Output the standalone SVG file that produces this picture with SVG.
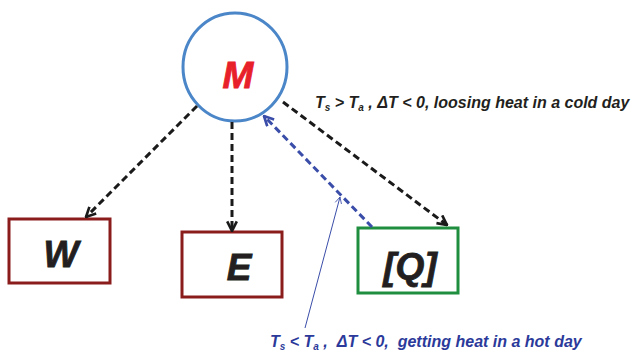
<svg xmlns="http://www.w3.org/2000/svg" width="635" height="352" viewBox="0 0 635 352">
<style>
.lbl{font-family:"Liberation Sans",Arial,sans-serif;font-weight:bold;font-style:italic}
.node{font-family:"Liberation Sans",Arial,sans-serif;font-weight:bold;font-style:italic;font-size:37px;fill:#231F20;text-anchor:middle;stroke:#231F20;stroke-width:0.8}
.dk{fill:none;stroke:#1a1a1a;stroke-width:3;stroke-dasharray:7 4}
.bl{fill:none;stroke:#3A4DA8;stroke-width:3;stroke-dasharray:7 4}
</style>
<defs>
<marker id="ak" viewBox="0 0 10 10" refX="9" refY="5" markerWidth="4" markerHeight="4" orient="auto" markerUnits="strokeWidth">
<path d="M1,1 L9,5 L1,9" fill="none" stroke="#1a1a1a" stroke-width="2.2"/>
</marker>
<marker id="ab" viewBox="0 0 10 10" refX="9" refY="5" markerWidth="4" markerHeight="4" orient="auto" markerUnits="strokeWidth">
<path d="M1,1 L9,5 L1,9" fill="none" stroke="#3A4DA8" stroke-width="2.2"/>
</marker>
<marker id="at" viewBox="0 0 10 10" refX="9" refY="5" markerWidth="8" markerHeight="8" orient="auto" markerUnits="strokeWidth">
<path d="M1,1 L9,5 L1,9" fill="none" stroke="#3A4DA8" stroke-width="1"/>
</marker>
</defs>
<rect width="635" height="352" fill="#fff"/>
<g id="M">
<ellipse cx="235" cy="67" rx="52" ry="54" fill="#fff" stroke="#4A86C8" stroke-width="3"/>
<text x="238" y="88" class="node" style="fill:#E8202A;stroke:#E8202A">M</text>
</g>
<g id="W">
<rect x="9" y="219" width="101" height="64" fill="#fff" stroke="#8B1C1C" stroke-width="3"/>
<text x="61" y="267" class="node">W</text>
</g>
<g id="E">
<rect x="182" y="232" width="100" height="65" fill="#fff" stroke="#8B1C1C" stroke-width="3"/>
<text x="239" y="280" class="node">E</text>
</g>
<g id="Q">
<rect x="358" y="228" width="100" height="65" fill="#fff" stroke="#1F8F3F" stroke-width="3"/>
<text x="410" y="279" class="node">[Q]</text>
</g>
<g id="connectors">
<line x1="197" y1="106" x2="86" y2="217" class="dk" marker-end="url(#ak)"/>
<line x1="232" y1="122" x2="232" y2="231" class="dk" marker-end="url(#ak)"/>
<line x1="283" y1="102" x2="447" y2="225" class="dk" marker-end="url(#ak)"/>
<line x1="372" y1="227" x2="264" y2="116" class="bl" marker-end="url(#ab)"/>
<line x1="305" y1="328" x2="340" y2="197" stroke="#3A4DA8" stroke-width="1" marker-end="url(#at)"/>
</g>
<text x="315" y="108" class="lbl" font-size="16" fill="#231F20">T<tspan font-size="10" dy="3">s</tspan><tspan dy="-3"> &gt; T</tspan><tspan font-size="10" dy="3">a</tspan><tspan dy="-3"> , ΔT &lt; 0, loosing heat in a cold day</tspan></text>
<text x="270" y="347" class="lbl" font-size="16" fill="#2B3A9A" xml:space="preserve">T<tspan font-size="10" dy="3">s</tspan><tspan dy="-3"> &lt; T</tspan><tspan font-size="10" dy="3">a</tspan><tspan dy="-3"> ,  ΔT &lt; 0,  getting heat in a hot day</tspan></text>
</svg>
